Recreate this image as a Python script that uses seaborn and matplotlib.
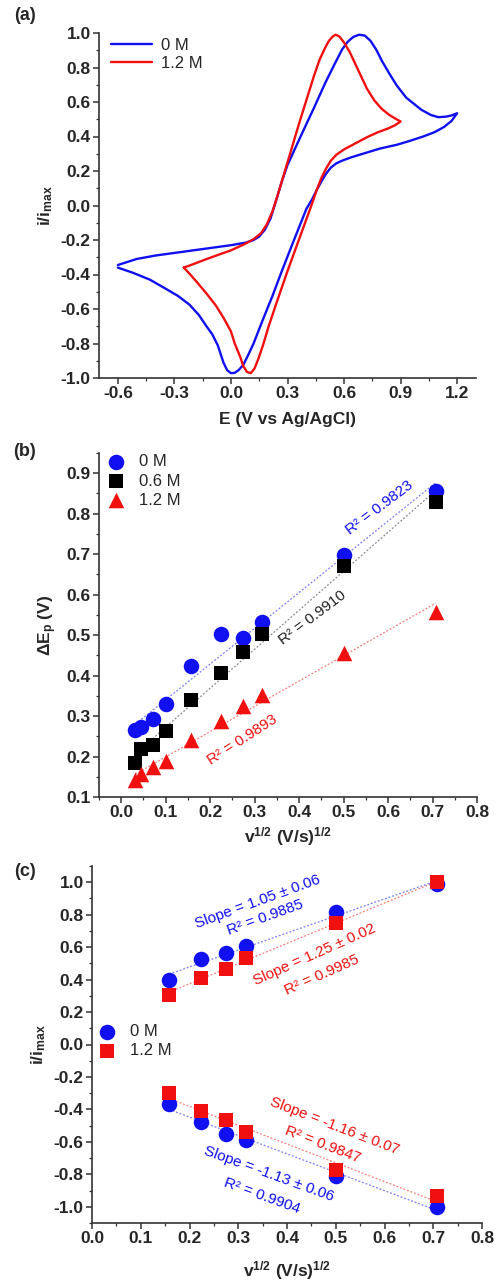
import numpy as np
import pandas as pd
import matplotlib
matplotlib.use("Agg")
import matplotlib.pyplot as plt
import seaborn as sns
from matplotlib.ticker import MultipleLocator

# ---------------- data ----------------
# (a) cyclic voltammograms (normalised current), traced in scan order
cv0_E = [-0.60, -0.50, -0.40, -0.30, -0.20, -0.10, 0.00, 0.08, 0.12, 0.15, 0.18, 0.21, 0.24, 0.27,
         0.30, 0.34, 0.38, 0.44, 0.50, 0.55, 0.59, 0.62, 0.65, 0.68, 0.71, 0.74, 0.77, 0.80, 0.84,
         0.88, 0.93, 0.97, 1.01, 1.06, 1.10, 1.14, 1.17, 1.20,
         1.17, 1.13, 1.08, 1.02, 0.95, 0.88, 0.79, 0.70, 0.64, 0.59, 0.56, 0.53, 0.505, 0.48, 0.455,
         0.43, 0.40, 0.36, 0.32, 0.27, 0.22, 0.17, 0.12, 0.09, 0.065, 0.04, 0.02, 0.00, -0.02, -0.04,
         -0.07, -0.10, -0.13, -0.17, -0.22, -0.28, -0.35, -0.43, -0.52, -0.60]
cv0_i = [-0.345, -0.31, -0.29, -0.275, -0.26, -0.245, -0.23, -0.215, -0.20, -0.18, -0.14, -0.075, 0.03, 0.14,
         0.235, 0.33, 0.425, 0.565, 0.71, 0.82, 0.905, 0.95, 0.978, 0.99, 0.985, 0.955, 0.905, 0.84, 0.765,
         0.695, 0.625, 0.59, 0.555, 0.525, 0.512, 0.515, 0.522, 0.535,
         0.49, 0.455, 0.425, 0.40, 0.375, 0.352, 0.33, 0.30, 0.28, 0.26, 0.245, 0.22, 0.185, 0.14, 0.09,
         0.035, -0.02, -0.13, -0.24, -0.38, -0.525, -0.66, -0.80, -0.87, -0.925, -0.955, -0.97, -0.972, -0.955, -0.91,
         -0.81, -0.745, -0.70, -0.635, -0.575, -0.525, -0.48, -0.43, -0.39, -0.36]

cv12_E = [-0.25, -0.20, -0.14, -0.07, 0.00, 0.07, 0.12, 0.16, 0.19, 0.22, 0.245, 0.27, 0.30, 0.33,
          0.36, 0.40, 0.44, 0.47, 0.50, 0.52, 0.54, 0.555, 0.575, 0.60, 0.63, 0.66, 0.69, 0.72, 0.76,
          0.80, 0.84, 0.87, 0.90,
          0.87, 0.83, 0.78, 0.72, 0.66, 0.60, 0.56, 0.53, 0.505, 0.48, 0.455, 0.43, 0.40, 0.36, 0.30,
          0.24, 0.20, 0.17, 0.145, 0.125, 0.105, 0.085, 0.065, 0.05, 0.02, 0.00, -0.04, -0.08, -0.13,
          -0.18, -0.22, -0.25]
cv12_i = [-0.36, -0.34, -0.315, -0.287, -0.26, -0.225, -0.195, -0.16, -0.11, -0.035, 0.05, 0.14, 0.25, 0.36,
          0.47, 0.61, 0.75, 0.845, 0.915, 0.955, 0.98, 0.99, 0.98, 0.945, 0.89, 0.82, 0.75, 0.68, 0.61,
          0.56, 0.525, 0.505, 0.487,
          0.465, 0.445, 0.425, 0.395, 0.36, 0.325, 0.295, 0.26, 0.215, 0.16, 0.09, 0.01, -0.08, -0.20, -0.38,
          -0.57, -0.70, -0.81, -0.89, -0.945, -0.972, -0.965, -0.93, -0.88, -0.80, -0.73, -0.65, -0.58, -0.51,
          -0.445, -0.395, -0.36]

# (b) peak separation vs sqrt scan rate
sqrt_v_b = [0.032, 0.045, 0.071, 0.100, 0.158, 0.224, 0.274, 0.316, 0.500, 0.707]
dEp_0M = [0.266, 0.273, 0.292, 0.329, 0.423, 0.502, 0.493, 0.532, 0.697, 0.856]
dEp_06M = [0.184, 0.219, 0.228, 0.263, 0.339, 0.407, 0.458, 0.503, 0.671, 0.828]
dEp_12M = [0.143, 0.156, 0.174, 0.189, 0.242, 0.289, 0.324, 0.353, 0.456, 0.557]
r2_b = ["0.9823", "0.9910", "0.9893"]

# (c) normalised peak currents vs sqrt scan rate
sqrt_v_c = [0.158, 0.224, 0.274, 0.316, 0.500, 0.707]
ipa_0M = [0.397, 0.525, 0.562, 0.604, 0.814, 0.99]
ipa_12M = [0.305, 0.412, 0.467, 0.531, 0.748, 1.0]
ipc_0M = [-0.366, -0.476, -0.552, -0.590, -0.81, -1.0]
ipc_12M = [-0.30, -0.412, -0.465, -0.538, -0.775, -0.934]
fit_c = [("1.05 \u00b1 0.06", "0.9885"), ("1.25 \u00b1 0.02", "0.9985"),
         ("-1.16 \u00b1 0.07", "0.9847"), ("-1.13 \u00b1 0.06", "0.9904")]

# ---------------- style ----------------
sns.set_theme(style="ticks")
plt.rcParams["font.family"] = ["Liberation Sans", "DejaVu Sans"]
plt.rcParams["mathtext.fontset"] = "custom"
plt.rcParams["mathtext.rm"] = "Liberation Sans:bold"
plt.rcParams["mathtext.bf"] = "Liberation Sans:bold"
plt.rcParams["mathtext.it"] = "Liberation Sans:bold"
plt.rcParams["mathtext.default"] = "bf"

BLUE = "#1010f0"
RED = "#f01010"
BLACK = "#000000"
BLUE_L = "#7b7bf5"
RED_L = "#f57b7b"
GRAY_L = "#8a8a8a"
TICK_FS = 12.5
LAB_FS = 12.5

fig = plt.figure(figsize=(4.97, 12.81), dpi=100)
W, H = 497.0, 1281.0


def add_ax(x0, x1, ytop, ybot):
    return fig.add_axes([x0 / W, 1 - ybot / H, (x1 - x0) / W, (ybot - ytop) / H])


def style_ax(ax, xmaj, xmin, ymaj, ymin):
    sns.despine(ax=ax)
    for s in ("left", "bottom"):
        ax.spines[s].set_linewidth(1.2)
        ax.spines[s].set_color("#333333")
    ax.xaxis.set_major_locator(MultipleLocator(xmaj))
    ax.xaxis.set_minor_locator(MultipleLocator(xmin))
    ax.yaxis.set_major_locator(MultipleLocator(ymaj))
    ax.yaxis.set_minor_locator(MultipleLocator(ymin))
    ax.tick_params(which="major", direction="out", length=4, width=1.1, labelsize=TICK_FS,
                   color="#333333", pad=2)
    ax.tick_params(which="minor", direction="out", length=2.5, width=0.9, color="#333333")


def set_labels(ax, xt, yt, fmt="{:.1f}"):
    ax.set_xticks(xt)
    ax.set_xticklabels([fmt.format(v).replace("-0.0", "0.0") for v in xt], fontweight="bold")
    ax.set_yticks(yt)
    ax.set_yticklabels([fmt.format(v).replace("-0.0", "0.0") for v in yt], fontweight="bold")


# ---------------- (a) ----------------
axa = add_ax(99, 476, 33, 378)
sns.lineplot(x=cv0_E, y=cv0_i, sort=False, estimator=None, color=BLUE, lw=1.7, ax=axa, label="0 M")
sns.lineplot(x=cv12_E, y=cv12_i, sort=False, estimator=None, color=RED, lw=1.7, ax=axa, label="1.2 M")
style_ax(axa, 0.3, 0.15, 0.2, 0.1)
set_labels(axa, np.round(np.arange(-0.6, 1.21, 0.3), 1), np.round(np.arange(-1.0, 1.01, 0.2), 1))
axa.set_xlim(-0.7, 1.3)
axa.set_ylim(-1.0, 1.0)
axa.set_xlabel("E (V vs Ag/AgCl)", fontsize=LAB_FS, fontweight="bold")
axa.set_ylabel("i/i$_{max}$", fontsize=LAB_FS, fontweight="bold")
axa.xaxis.set_label_coords(0.5, -0.098)
axa.yaxis.set_label_coords(-0.117, 0.5)
axa.legend(loc="upper left", bbox_to_anchor=(0.0, 1.02), frameon=False, fontsize=12,
           handlelength=2.5, handletextpad=0.5, labelspacing=0.2, borderaxespad=0.3)
fig.text(25 / W, 1 - 15 / H, "(a)", fontsize=13, fontweight="bold", ha="center", va="center")

# ---------------- (b) ----------------
axb = add_ax(99, 477, 453, 797)
series_b = [(dEp_0M, BLUE, BLUE_L, "o", 125, "0 M"),
            (dEp_06M, BLACK, GRAY_L, "s", 95, "0.6 M"),
            (dEp_12M, RED, RED_L, "^", 125, "1.2 M")]
for yv, c, cl, m, s, lab in series_b:
    sns.regplot(x=np.array(sqrt_v_b), y=np.array(yv), scatter=False, ci=None, ax=axb,
                line_kws=dict(color=cl, ls=(0, (1.5, 1.5)), lw=0.9))
for yv, c, cl, m, s, lab in series_b:
    sns.scatterplot(x=sqrt_v_b, y=yv, marker=m, s=s, color=c, linewidth=0, ax=axb, label=lab, zorder=3)
style_ax(axb, 0.1, 0.05, 0.1, 0.05)
set_labels(axb, np.round(np.arange(0, 0.81, 0.1), 1), np.round(np.arange(0.1, 0.91, 0.1), 1))
axb.set_xlim(-0.05, 0.8)
axb.set_ylim(0.1, 0.95)
axb.set_xlabel("v$^{1/2}$ (V/s)$^{1/2}$", fontsize=LAB_FS, fontweight="bold")
axb.set_ylabel("\u0394E$_{p}$ (V)", fontsize=LAB_FS, fontweight="bold")
axb.xaxis.set_label_coords(0.5, -0.082)
axb.yaxis.set_label_coords(-0.105, 0.5)
axb.legend(loc="upper left", bbox_to_anchor=(-0.03, 1.03), frameon=False, fontsize=12,
           handletextpad=0.4, labelspacing=0.25, borderaxespad=0.3)
tb = dict(ha="center", va="center", rotation_mode="anchor", fontsize=11)
axb.text(0.581, 0.814, "R\u00b2 = " + r2_b[0], color=BLUE, rotation=37, **tb)
axb.text(0.43, 0.544, "R\u00b2 = " + r2_b[1], color="#222222", rotation=37, **tb)
axb.text(0.273, 0.241, "R\u00b2 = " + r2_b[2], color=RED, rotation=33, **tb)
fig.text(25 / W, 1 - 452 / H, "(b)", fontsize=13, fontweight="bold", ha="center", va="center")

# ---------------- (c) ----------------
axc = add_ax(92, 482, 866, 1223)
groups_c = [(ipa_0M, BLUE, BLUE_L, "o", 125, "0 M"),
            (ipc_0M, BLUE, BLUE_L, "o", 125, None),
            (ipa_12M, RED, RED_L, "s", 100, "1.2 M"),
            (ipc_12M, RED, RED_L, "s", 100, None)]
for yv, c, cl, m, s, lab in groups_c:
    sns.regplot(x=np.array(sqrt_v_c), y=np.array(yv), scatter=False, ci=None, ax=axc,
                line_kws=dict(color=cl, ls=(0, (1.5, 1.5)), lw=0.9))
for yv, c, cl, m, s, lab in groups_c:
    sns.scatterplot(x=sqrt_v_c, y=yv, marker=m, s=s, color=c, linewidth=0, ax=axc, label=lab, zorder=3)
style_ax(axc, 0.1, 0.05, 0.2, 0.1)
set_labels(axc, np.round(np.arange(0, 0.81, 0.1), 1), np.round(np.arange(-1.0, 1.01, 0.2), 1))
axc.set_xlim(0.0, 0.8)
axc.set_ylim(-1.1, 1.1)
axc.set_xlabel("v$^{1/2}$ (V/s)$^{1/2}$", fontsize=LAB_FS, fontweight="bold")
axc.set_ylabel("i/i$_{max}$", fontsize=LAB_FS, fontweight="bold")
axc.xaxis.set_label_coords(0.5, -0.1)
axc.yaxis.set_label_coords(-0.113, 0.5)
axc.legend(loc="upper left", bbox_to_anchor=(-0.035, 0.59), frameon=False, fontsize=12,
           handletextpad=0.4, labelspacing=0.25, borderaxespad=0.3)
tk = dict(ha="center", va="center", rotation_mode="anchor", fontsize=11)
axc.text(0.34, 0.88, "Slope = " + fit_c[0][0], color=BLUE, rotation=20, **tk)
axc.text(0.355, 0.78, "R\u00b2 = " + fit_c[0][1], color=BLUE, rotation=20, **tk)
axc.text(0.457, 0.553, "Slope = " + fit_c[1][0], color=RED, rotation=24, **tk)
axc.text(0.471, 0.429, "R\u00b2 = " + fit_c[1][1], color=RED, rotation=24, **tk)
axc.text(0.498, -0.50, "Slope = " + fit_c[2][0], color=RED, rotation=-21, **tk)
axc.text(0.473, -0.614, "R\u00b2 = " + fit_c[2][1], color=RED, rotation=-21, **tk)
axc.text(0.362, -0.80, "Slope = " + fit_c[3][0], color=BLUE, rotation=-20, **tk)
axc.text(0.348, -0.934, "R\u00b2 = " + fit_c[3][1], color=BLUE, rotation=-20, **tk)
fig.text(25 / W, 1 - 872 / H, "(c)", fontsize=13, fontweight="bold", ha="center", va="center")

fig.savefig("out.png", dpi=100)
